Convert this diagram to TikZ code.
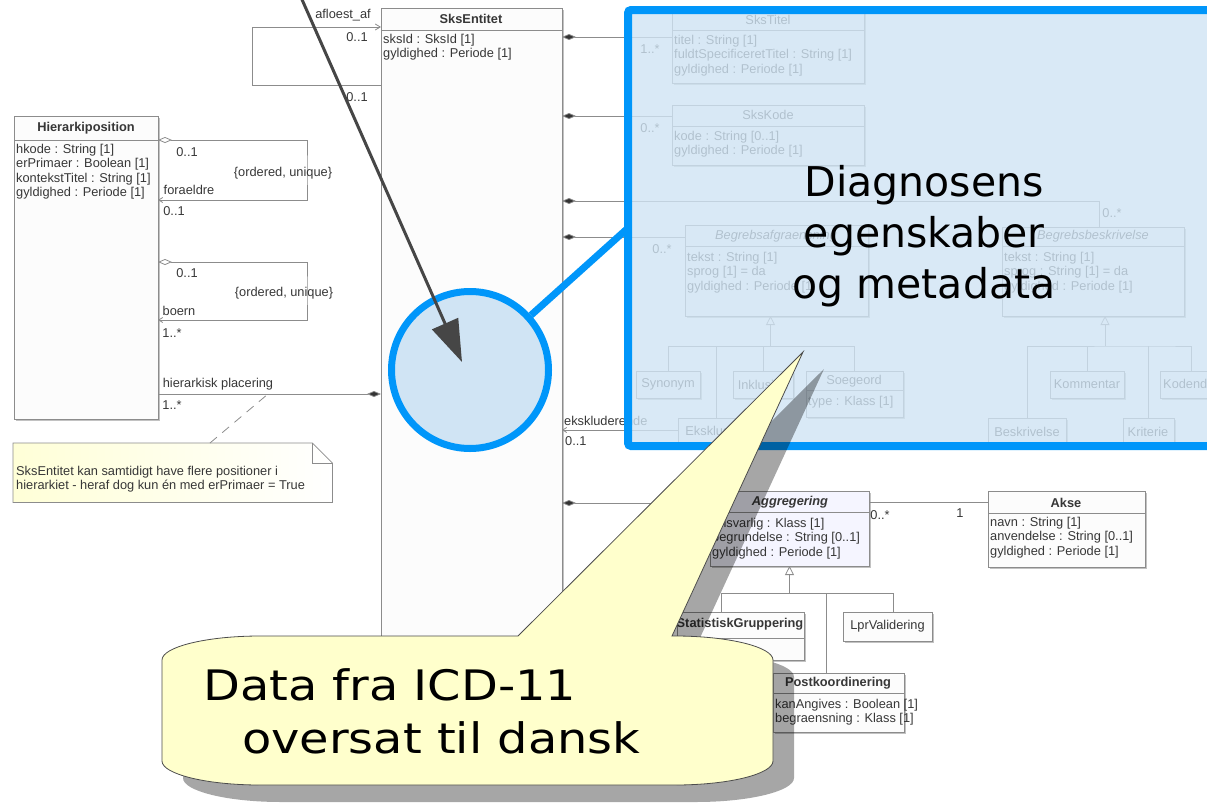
\documentclass[tikz,border=0pt]{standalone}
\usepackage{fontspec}
\setmainfont{Liberation Sans}
\newfontfamily\bigsans{DejaVu Sans}
\newfontfamily\widesans[FakeStretch=1.14]{DejaVu Sans}
\usetikzlibrary{arrows.meta,shadows}
\definecolor{umlline}{RGB}{140,140,140}
\definecolor{umltext}{RGB}{55,55,55}
\definecolor{hilite}{RGB}{0,150,250}
\definecolor{hilitefill}{RGB}{208,228,244}
\definecolor{notefill}{RGB}{255,255,215}
\definecolor{bubble}{RGB}{255,255,204}
\definecolor{pointer}{RGB}{70,70,70}
\newcommand{\umlsize}{\fontsize{12.8}{14.5}\selectfont}

\begin{document}
\begin{tikzpicture}[x=1pt,y=-1pt,
  cls/.style={draw=umlline,fill=black!1,anchor=north west,inner sep=0pt,outer sep=0pt,
    drop shadow={shadow xshift=2pt,shadow yshift=-2pt,fill=black!40,opacity=.6}},
  hd/.style={font=\umlsize\bfseries,text=umltext,inner sep=0pt},
  hdn/.style={font=\umlsize,text=umltext,inner sep=0pt},
  att/.style={font=\umlsize,text=umltext,align=left,anchor=north west,inner sep=0pt},
  lbl/.style={font=\umlsize,text=umltext,inner sep=0pt},
  uline/.style={draw=umlline,line width=0.8pt},
  comp/.style={uline,{Diamond[length=14pt,width=6pt,fill=black!80]}-},
  gen/.style={uline,-{Triangle[open,length=9pt,width=9pt]}}]
\useasboundingbox (0,0) rectangle (1207,803);

\node[cls,minimum width=181pt,minimum height=712pt] (ent) at (381,8) {};
\node[hd] (ent-h) at (471,19) {SksEntitet};
\draw[uline] (ent.west |- 0,30) -- (ent.east |- 0,30);
\node[att] (ent-a) at (383,34) {sksId : SksId [1]\\gyldighed : Periode [1]};

\node[cls,minimum width=144pt,minimum height=303pt] (hp) at (14,116) {};
\node[hd] (hp-h) at (86,128) {Hierarkiposition};
\draw[uline] (hp.west |- 0,140) -- (hp.east |- 0,140);
\node[att] (hp-a) at (16,144) {hkode : String [1]\\erPrimaer : Boolean [1]\\kontekstTitel : String [1]\\gyldighed : Periode [1]};

\node[cls,minimum width=192pt,minimum height=73pt] (titel) at (672,10) {};
\node[hdn] (titel-h) at (768,20) {SksTitel};
\draw[uline] (titel.west |- 0,30) -- (titel.east |- 0,30);
\node[att] (titel-a) at (674,35) {titel : String [1]\\fuldtSpecificeretTitel : String [1]\\gyldighed : Periode [1]};

\node[cls,minimum width=192pt,minimum height=60pt] (kode) at (672,105) {};
\node[hdn] (kode-h) at (768,115) {SksKode};
\draw[uline] (kode.west |- 0,126) -- (kode.east |- 0,126);
\node[att] (kode-a) at (674,131) {kode : String [0..1]\\gyldighed : Periode [1]};

\node[cls,minimum width=183pt,minimum height=91pt] (afgr) at (685,225) {};
\node[hdn,font=\umlsize\itshape] (afgr-h) at (776,236) {Begrebsafgraensning};
\draw[uline] (afgr.west |- 0,246) -- (afgr.east |- 0,246);
\node[att] (afgr-a) at (687,252) {tekst : String [1]\\sprog [1] = da\\gyldighed : Periode [1]};

\node[cls,minimum width=182pt,minimum height=89pt] (beskr) at (1002,227) {};
\node[hdn,font=\umlsize\itshape] (beskr-h) at (1093,236) {Begrebsbeskrivelse};
\draw[uline] (beskr.west |- 0,246) -- (beskr.east |- 0,246);
\node[att] (beskr-a) at (1004,252) {tekst : String [1]\\sprog : String [1] = da\\gyldighed : Periode [1]};

\node[cls,minimum width=64pt,minimum height=27pt] (syn) at (636,371) {};
\node[hdn] (syn-h) at (syn) {Synonym};
\node[cls,minimum width=60pt,minimum height=27pt] (inkl) at (733,371) {};
\node[hdn] (inkl-h) at (inkl) {Inklusion};
\node[cls,minimum width=97pt,minimum height=46pt] (soeg) at (806,371) {};
\node[hdn] (soeg-h) at (854,381) {Soegeord};
\draw[uline] (soeg.west |- 0,390) -- (soeg.east |- 0,390);
\node[att] (soeg-a) at (808,396) {type : Klass [1]};
\node[cls,minimum width=76pt,minimum height=28pt] (eksk) at (678,418) {};
\node[hdn] (eksk-h) at (716,431) {Eksklusion};

\node[cls,minimum width=74pt,minimum height=27pt] (komm) at (1050,371) {};
\node[hdn] (komm-h) at (komm) {Kommentar};
\node[cls,minimum width=70pt,minimum height=27pt] (kod2) at (1160,371) {};
\node[hdn,anchor=west] (kod2-h) at (1163,384) {Kodend};
\node[cls,minimum width=78pt,minimum height=28pt] (besk2) at (988,418) {};
\node[hdn] (besk2-h) at (1027,432) {Beskrivelse};
\node[cls,minimum width=51pt,minimum height=28pt] (krit) at (1123,418) {};
\node[hdn] (krit-h) at (1148,432) {Kriterie};

\node[cls,fill=blue!4,minimum width=159pt,minimum height=75pt] (aggr) at (710,491) {};
\node[hd,font=\umlsize\bfseries\itshape] (aggr-h) at (790,502) {Aggregering};
\draw[uline] (aggr.west |- 0,512) -- (aggr.east |- 0,512);
\node[att] (aggr-a) at (712,518) {ansvarlig : Klass [1]\\begrundelse : String [0..1]\\gyldighed : Periode [1]};

\node[cls,minimum width=157pt,minimum height=76pt] (akse) at (988,491) {};
\node[hd] (akse-h) at (1066,503) {Akse};
\draw[uline] (akse.west |- 0,513) -- (akse.east |- 0,513);
\node[att] (akse-a) at (990,517) {navn : String [1]\\anvendelse : String [0..1]\\gyldighed : Periode [1]};

\node[cls,minimum width=127pt,minimum height=48pt] (statg) at (677,612) {};
\node[hd] (statg-h) at (740,624) {StatistiskGruppering};
\draw[uline] (statg.west |- 0,638) -- (statg.east |- 0,638);
\node[att] (statg-a) at (679,642) {klasser [1]};
\node[cls,minimum width=89pt,minimum height=29pt] (lpr) at (843,612) {};
\node[hdn] (lpr-h) at (lpr) {LprValidering};
\node[cls,minimum width=131pt,minimum height=59pt] (post) at (773,673) {};
\node[hd] (post-h) at (838,683) {Postkoordinering};
\draw[uline] (post.west |- 0,693) -- (post.east |- 0,693);
\node[att] (post-a) at (775,699) {kanAngives : Boolean [1]\\begraensning : Klass [1]};

\draw[uline,-{Straight Barb[length=5pt,width=6pt]}] (ent.west |- 0,85) -| (252,27) -- (ent.west |- 0,27);
\draw[uline,{Diamond[open,length=14pt,width=6pt]}-{Straight Barb[length=4pt,width=5pt]}] (hp.east |- 0,140) -| (307,170) |- (hp.east |- 0,200);
\draw[uline,{Diamond[open,length=14pt,width=6pt]}-{Straight Barb[length=4pt,width=5pt]}] (hp.east |- 0,262) -| (307,290) |- (hp.east |- 0,320);
\draw[uline,-{Diamond[length=14pt,width=6pt,fill=black!80]}] (hp.east |- 0,394) -- (ent.west |- 0,394);

\draw[comp] (ent.east |- 0,37) -- (titel.west |- 0,37);
\draw[comp] (ent.east |- 0,116) -- (kode.west |- 0,116);
\draw[comp] (ent.east |- 0,201) -| ([xshift=6pt]beskr.north);
\draw[comp] (ent.east |- 0,237) -- (afgr.west |- 0,237);
\draw[uline,{Straight Barb[length=4pt,width=5pt]}-] (ent.east |- 0,430) -- (eksk.west |- 0,430);
\draw[comp] (ent.east |- 0,503) -- (aggr.west |- 0,503);
\draw[uline] (aggr.east |- 0,502) -- (akse.west |- 0,502);

\coordinate (afgr-t) at ([xshift=-6pt]afgr.south);
\draw[uline] (syn.north) |- (soeg.north |- 0,346) -- (soeg.north);
\draw[uline] (eksk.north) -- (eksk.north |- 0,346);
\draw[uline] (inkl.north) -- (inkl.north |- 0,346);
\draw[gen] (afgr-t |- 0,346) -- (afgr-t);

\coordinate (beskr-t) at ([xshift=12pt]beskr.south);
\draw[uline] (besk2.north) |- (kod2.north west |- 0,346) -| ([xshift=31pt]kod2.north west);
\draw[uline] (komm.north) -- (komm.north |- 0,346);
\draw[uline] (krit.north) -- (krit.north |- 0,346);
\draw[gen] (beskr-t |- 0,346) -- (beskr-t);

\coordinate (statg-t) at ([xshift=44pt]statg.north west);
\coordinate (post-t) at ([xshift=53pt]post.north west);
\coordinate (lpr-t) at ([xshift=50pt]lpr.north west);
\draw[uline] (statg-t) |- (lpr-t |- 0,593) -- (lpr-t);
\draw[uline] (post-t) -- (post-t |- 0,593);
\draw[gen] (aggr.south |- 0,593) -- (aggr.south);

\node[lbl] (l-afl) at (343,15) {afloest\_af};
\node[lbl] (l-afl1) at (357,37) {0..1};
\node[lbl] (l-afl2) at (357,97) {0..1};
\node[lbl] (l-f1) at (187,152) {0..1};
\node[lbl] (l-f2) at (283,173) {\{ordered, unique\}};
\node[lbl] (l-f3) at (189,190) {foraeldre};
\node[lbl] (l-f4) at (174,211) {0..1};
\node[lbl] (l-b1) at (187,273) {0..1};
\node[lbl] (l-b2) at (284,293) {\{ordered, unique\}};
\node[lbl] (l-b3) at (179,311) {boern};
\node[lbl] (l-b4) at (172,333) {1..*};
\node[lbl] (l-p1) at (218,384) {hierarkisk placering};
\node[lbl] (l-p2) at (172,405) {1..*};
\node[lbl] (l-t) at (650,49) {1..*};
\node[lbl] (l-k) at (650,128) {0..*};
\node[lbl] (l-a) at (662,249) {0..*};
\node[lbl] (l-bb) at (1112,213) {0..*};
\node[lbl,anchor=west] (l-e1) at (564,421) {ekskluderende};
\node[lbl,anchor=west] (l-e2) at (565,441) {0..1};
\node[lbl] (l-g1) at (880,515) {0..*};
\node[lbl] (l-g2) at (960,513) {1};

\node[anchor=north west,inner sep=0pt,minimum width=319pt,minimum height=59pt] (note) at (13,443) {};
\draw[uline,left color=notefill,right color=white] (note.south west) -- (note.north west) -- ([xshift=-20pt]note.north east) -- ([yshift=-20pt]note.north east) -- (note.south east) -- cycle;
\draw[uline] ([xshift=-20pt]note.north east) -- ([xshift=-20pt,yshift=-20pt]note.north east) -- ([yshift=-20pt]note.north east);
\node[att] (note-t) at (16,466) {SksEntitet kan samtidigt have flere positioner i\\hierarkiet - heraf dog kun én med erPrimaer = True};
\coordinate (plc) at (268,394);
\draw[uline,dash pattern=on 9pt off 7pt] ([xshift=197pt]note.north west) -- (plc);

\node[draw=hilite,line width=8pt,fill=hilitefill,fill opacity=.8,rounded corners=3pt,anchor=north west,inner sep=0pt,outer sep=0pt,minimum width=610pt,minimum height=436pt] (frame) at (628,10) {};
\node[font=\bigsans\fontsize{41}{51}\selectfont,align=center,inner sep=0pt] (props) at (924,236) {Diagnosens\\egenskaber\\og metadata};

\node[circle,draw=hilite,line width=7pt,fill=hilitefill,minimum size=157pt,inner sep=0pt] (spot) at (470,370) {};
\draw[hilite,line width=7pt] (spot) -- (frame.west |- 0,228);

\coordinate (src) at (300,-5);
\coordinate (aim) at (462,362);
\draw[pointer,line width=3pt,-{Triangle[length=42pt,width=28pt]}] (src) -- (aim);

\fill[black,opacity=.35,shift={(21,17)}] (260,636) -- (518,636) -- (803,352) -- (672,636) -- (675,636) .. controls (729,636) and (773,647) .. (773,660) -- (773,761) .. controls (773,774) and (729,785) .. (675,785) -- (260,785) .. controls (206,785) and (162,774) .. (162,761) -- (162,660) .. controls (162,647) and (206,636) .. (260,636) -- cycle;
\draw[black!70,line width=0.8pt,fill=bubble] (260,636) -- (518,636) -- (803,352) -- (672,636) -- (675,636) .. controls (729,636) and (773,647) .. (773,660) -- (773,761) .. controls (773,774) and (729,785) .. (675,785) -- (260,785) .. controls (206,785) and (162,774) .. (162,761) -- (162,660) .. controls (162,647) and (206,636) .. (260,636) -- cycle;
\node[font=\widesans\fontsize{42}{53}\selectfont,align=left,anchor=north west,inner sep=0pt] (icd) at (203,668) {Data fra ICD-11\\\hspace*{39pt}oversat til dansk};
\end{tikzpicture}
\end{document}
